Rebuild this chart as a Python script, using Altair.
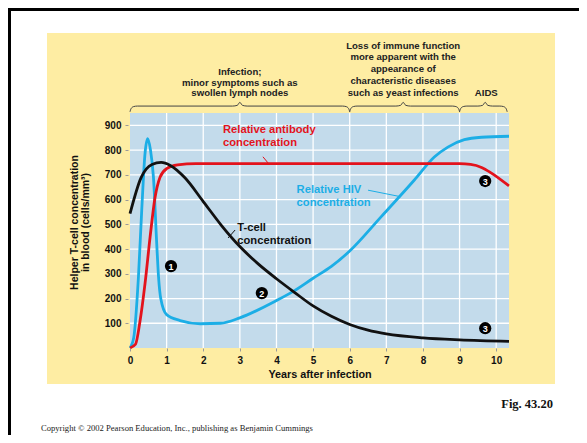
import altair as alt
import pandas as pd

# ---------------- data ----------------
tcell_x = [0, 0.3, 0.6, 0.85, 1.1, 1.5, 2.0, 2.5, 3.0, 3.5, 4.0, 4.5, 5.0, 5.5, 6.0, 6.5, 7.0, 8.0, 9.0, 10.35]
tcell_y = [543, 688, 742, 750, 738, 688, 592, 495, 410, 340, 280, 224, 170, 128, 95, 72, 57, 41, 33, 27]

anti_x = [0, 0.15, 0.27, 0.41, 0.55, 0.68, 0.82, 1.0, 1.3, 1.8, 9.0, 9.3, 9.6, 9.86, 10.35]
anti_y = [0, 15, 105, 260, 450, 605, 690, 725, 740, 745, 745, 742, 730, 708, 655]

hiv_x = [0, 0.1, 0.23, 0.32, 0.41, 0.48, 0.56, 0.64, 0.73, 0.78, 0.84, 1.0, 1.37, 1.92, 2.47, 3.0, 4.0, 4.47, 5.0, 5.5, 6.0, 6.85, 7.76, 8.31, 8.68, 9.13, 9.6, 10.35]
hiv_y = [0, 40, 286, 556, 786, 846, 800, 691, 421, 286, 200, 135, 111, 98, 100, 122, 192, 230, 282, 330, 392, 529, 678, 772, 812, 842, 852, 856]

x_ticks = [0, 1, 2, 3, 4, 5, 6, 7, 8, 9, 10]
y_ticks = [100, 200, 300, 400, 500, 600, 700, 800, 900]

marker_x = [1.12, 3.6, 9.7, 9.7]
marker_y = [331, 222, 675, 80]
marker_lbl = ["1", "2", "3", "3"]

phase_text = [
    "Infection;", "minor symptoms such as", "swollen lymph nodes",
    "Loss of immune function", "more apparent with the", "appearance of",
    "characteristic diseases", "such as yeast infections", "AIDS",
]
phase_x = [3.0, 3.0, 3.0, 7.46, 7.46, 7.46, 7.46, 7.46, 9.73]
phase_y = [1114, 1072, 1029, 1221, 1175, 1126, 1078, 1032, 1032]

brace_start = [0.0, 6.0, 9.0]
brace_end = [6.0, 9.0, 10.3]
brace_tip = [3.0, 7.46, 9.7]

curve_lbl = ["Relative antibody\nconcentration", "T-cell\nconcentration", "Relative HIV\nconcentration"]
curve_lbl_x = [2.54, 2.93, 4.55]
curve_lbl_y = [905, 511, 665]
curve_lbl_grp = ["anti", "tcell", "hiv"]

leader_x = [3.63, 3.77, 2.68, 2.87, 6.5, 7.38]
leader_y = [773, 748, 445, 477, 638, 612]
leader_grp = ["anti", "anti", "tcell", "tcell", "hiv", "hiv"]

# ---------------- styling ----------------
FONT = "Liberation Sans"
SERIF = "Liberation Serif"
YELLOW = "#FEEDA3"
PLOTBG = "#C3DBEB"
RED = "#E3131C"
BLUE = "#1CAEE6"
BLACK = "#111111"

W, H = 379, 235
XMAX, YMAX = 10.35, 950

xscale = alt.Scale(domain=[0, XMAX], nice=False, zero=False)
yscale = alt.Scale(domain=[0, YMAX], nice=False, zero=False)

xaxis = alt.Axis(values=x_ticks, grid=False, domain=False, tickSize=3, tickColor="#9a9a9a",
                 labelFont=FONT, labelFontWeight="bold", labelFontSize=10, labelColor=BLACK,
                 labelPadding=4, labelFlush=False, title="Years after infection", titleFont=FONT,
                 titleFontSize=10.8, titleFontWeight="bold", titleColor=BLACK, titlePadding=3, zindex=1)
yaxis = alt.Axis(values=y_ticks, grid=False, domain=False, offset=2, tickSize=3, tickColor="#9a9a9a",
                 labelFont=FONT, labelFontWeight="bold", labelFontSize=10, labelColor=BLACK,
                 labelPadding=4, title=["Helper T-cell concentration", "in blood (cells/mm³)"],
                 titleFont=FONT, titleFontSize=10.5, titleFontWeight="bold", titleColor=BLACK,
                 titlePadding=14, titleLineHeight=10.5, titleY=109, zindex=1)


def X(f="x"):
    return alt.X(f + ":Q", scale=xscale, axis=xaxis)


def Y(f="y"):
    return alt.Y(f + ":Q", scale=yscale, axis=yaxis)


dummy = pd.DataFrame({"d": [0]})

# background panels
yellow = alt.Chart(dummy).mark_rect(color=YELLOW).encode(
    x=alt.value(-83), x2=alt.value(425), y=alt.value(-80), y2=alt.value(271))
plotbg = alt.Chart(dummy).mark_rect(color=PLOTBG).encode(
    x=alt.value(0), x2=alt.value(W), y=alt.value(0), y2=alt.value(H))

# grid
vgrid = alt.Chart(pd.DataFrame({"x": x_ticks[1:]})).mark_rule(color="white", strokeWidth=1.3).encode(x=X())
hgrid = alt.Chart(pd.DataFrame({"y": y_ticks})).mark_rule(color="white", strokeWidth=1.3).encode(y=Y())

# braces
brows = []
for i, (a, b, t) in enumerate(zip(brace_start, brace_end, brace_tip)):
    pts = [(a, 955), (a + 0.03, 968), (a + 0.1, 976), (a + 0.2, 978), (t - 0.2, 978), (t - 0.07, 981),
           (t, 993), (t + 0.07, 981), (t + 0.2, 978), (b - 0.2, 978), (b - 0.1, 976), (b - 0.03, 968), (b, 955)]
    for k, (px, py) in enumerate(pts):
        brows.append({"x": px, "y": py, "g": i, "o": k})
braces = alt.Chart(pd.DataFrame(brows)).mark_line(color="#444444", strokeWidth=1, interpolate="monotone").encode(
    x=X(), y=Y(), detail="g:N", order="o:Q")

# phase text
phase = alt.Chart(pd.DataFrame({"x": phase_x, "y": phase_y, "t": phase_text})).mark_text(
    font=FONT, fontSize=9.6, fontWeight="bold", color="#222222", align="center", baseline="middle").encode(
    x=X(), y=Y(), text="t:N")


def curve(xs, ys, color):
    return alt.Chart(pd.DataFrame({"x": xs, "y": ys})).mark_line(
        color=color, strokeWidth=2.8, interpolate="monotone").encode(x=X(), y=Y())


hiv = curve(hiv_x, hiv_y, BLUE)
anti = curve(anti_x, anti_y, RED)
tcell = curve(tcell_x, tcell_y, BLACK)

color_scale = alt.Scale(domain=["anti", "tcell", "hiv"], range=[RED, BLACK, BLUE])

leaders = alt.Chart(pd.DataFrame({"x": leader_x, "y": leader_y, "g": leader_grp})).mark_line(strokeWidth=1).encode(
    x=X(), y=Y(), detail="g:N", color=alt.Color("g:N", scale=color_scale, legend=None))

labels = alt.Chart(pd.DataFrame({"x": curve_lbl_x, "y": curve_lbl_y, "t": curve_lbl, "g": curve_lbl_grp})).mark_text(
    font=FONT, fontSize=11.2, fontWeight="bold", align="left", baseline="top", lineBreak="\n",
    lineHeight=13.2).encode(
    x=X(), y=Y(), text="t:N", color=alt.Color("g:N", scale=color_scale, legend=None))

mdf = pd.DataFrame({"x": marker_x, "y": marker_y, "t": marker_lbl})
markers = alt.Chart(mdf).mark_circle(size=150, color="#000000", opacity=1).encode(x=X(), y=Y())
mtext = alt.Chart(mdf).mark_text(font=FONT, fontSize=9, fontWeight="bold", color="white",
                                 baseline="middle", dy=0.5).encode(x=X(), y=Y(), text="t:N")

# frame and captions
frame_top = alt.Chart(dummy).mark_rule(color="#000000", strokeWidth=3).encode(
    x=alt.value(-122), x2=alt.value(449), y=alt.value(-103.5))
frame_left = alt.Chart(dummy).mark_rule(color="#000000", strokeWidth=3).encode(
    x=alt.value(-120.5), y=alt.value(-105), y2=alt.value(322))
fig = alt.Chart(dummy).mark_text(font=SERIF, fontSize=12.5, fontWeight="bold", color="#111111",
                                 align="right", baseline="alphabetic").encode(
    x=alt.value(423), y=alt.value(295), text=alt.value("Fig. 43.20"))
copy = alt.Chart(dummy).mark_text(font=SERIF, fontSize=8.6, color="#222222", align="left",
                                  baseline="alphabetic").encode(
    x=alt.value(-89), y=alt.value(318),
    text=alt.value("Copyright © 2002 Pearson Education, Inc., publishing as Benjamin Cummings"))

chart = alt.layer(
    yellow, plotbg, vgrid, hgrid, braces, phase, hiv, anti, tcell, leaders, labels, markers, mtext,
    frame_top, frame_left, fig, copy
).properties(
    width=W, height=H,
    autosize=alt.AutoSizeParams(type="none"),
    padding={"left": 122, "top": 105, "right": 70, "bottom": 87},
).configure(background="white").configure_view(stroke=None)

chart.save("out.html", embed_options={"renderer": "svg", "actions": False})
